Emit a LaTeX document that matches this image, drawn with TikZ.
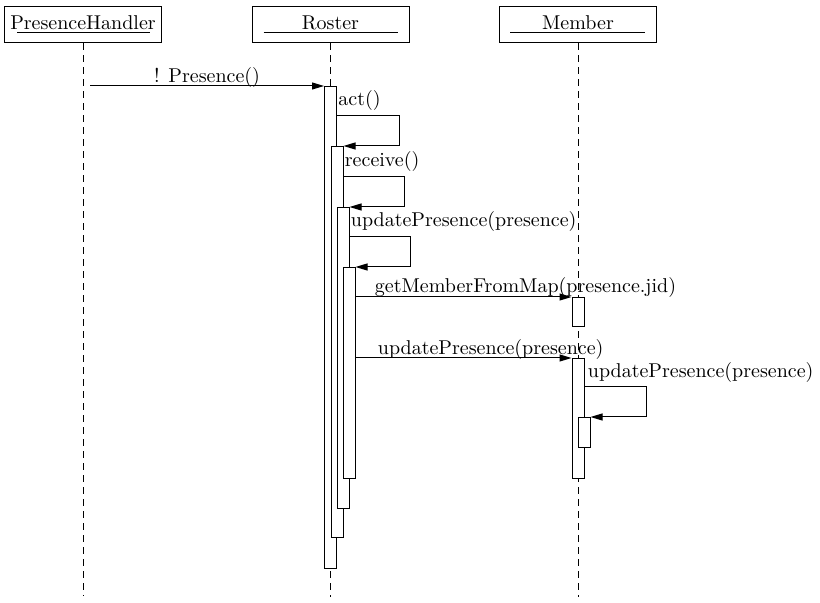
\documentclass[tikz,border=0pt]{standalone}
\usetikzlibrary{arrows.meta}
\begin{document}
\begin{tikzpicture}[x=0.5pt,y=-0.5pt,
  head/.style={draw, line width=0.5pt, minimum width=78.5pt, minimum height=18pt, inner sep=0pt, text height=7pt, text depth=2pt, font=\fontsize{10}{12}\selectfont},
  bar/.style={draw, fill=white, line width=0.5pt, minimum width=6pt, anchor=north, inner sep=0pt},
  life/.style={line width=0.5pt, dash pattern=on 3.5pt off 2.5pt},
  msg/.style={line width=0.5pt, -{Triangle[length=6pt,width=3.5pt]}},
  lbl/.style={inner sep=0pt, font=\fontsize{10}{12}\selectfont},
  uline/.style={line width=0.5pt}]
\useasboundingbox (0,0) rectangle (820,603);
% heads
\node[head] (ph) at (83,25) {PresenceHandler};
\node[head] (ro) at (330.5,25) {Roster};
\node[head] (me) at (578,25) {Member};
\draw[uline] ([shift={(-33pt,-4pt)}]ph.center) -- ++(66.5pt,0);
\draw[uline] ([shift={(-33.5pt,-4pt)}]ro.center) -- ++(67pt,0);
\draw[uline] ([shift={(-34pt,-4pt)}]me.center) -- ++(67.5pt,0);
% lifelines
\coordinate (phend) at (83,596);
\coordinate (roend) at (330.5,597);
\coordinate (meend) at (578,597);
\draw[life] (ph.south) -- (phend);
\draw[life] (ro.south) -- (roend);
\draw[life] (me.south) -- (meend);
% activation bars
\node[bar, minimum height=241pt] (r1) at (330.5,86) {};
\node[bar, minimum height=195.5pt] (r2) at (337,146) {};
\node[bar, minimum height=150.5pt] (r3) at (343,207) {};
\node[bar, minimum height=105.5pt] (r4) at (349,267) {};
\node[bar, minimum height=14.5pt] (m1) at (578,297) {};
\node[bar, minimum height=60pt] (m2) at (578,358) {};
\node[bar, minimum height=15pt] (m3) at (584,417) {};
\coordinate (s1) at (r4.east |- m1.north);
\coordinate (s2) at (r4.east |- m2.north);
% messages
\coordinate (src) at (90,86);
\draw[msg] (src) -- (r1.north west) node[lbl, midway, anchor=base, yshift=1.5pt] {! Presence()};
\node[lbl, anchor=base west] (la) at ([shift={(0.5pt,-10pt)}]r1.north east) {act()};
\draw[msg] ([yshift=-15pt]r1.north east) -- ++(31pt,0) |- (r2.north east);
\node[lbl, anchor=base west] (lr) at ([shift={(0.5pt,-10.5pt)}]r2.north east) {receive()};
\draw[msg] ([yshift=-15.5pt]r2.north east) -- ++(30.5pt,0) |- (r3.north east);
\node[lbl, anchor=base west] (lu) at ([shift={(0.5pt,-10pt)}]r3.north east) {updatePresence(presence)};
\draw[msg] ([yshift=-15pt]r3.north east) -- ++(30.5pt,0) |- (r4.north east);
\draw[msg] (s1) -- (m1.north west);
\node[lbl, anchor=base west] (lg) at ([shift={(9.5pt,2pt)}]s1) {getMemberFromMap(presence.jid)};
\draw[msg] (s2) -- (m2.north west);
\node[lbl, anchor=base west] (lp) at ([shift={(11pt,1.5pt)}]s2) {updatePresence(presence)};
\node[lbl, anchor=base west] (lm) at ([shift={(1.5pt,-10pt)}]m2.north east) {updatePresence(presence)};
\draw[msg] ([yshift=-14.5pt]m2.north east) -- ++(31pt,0) |- (m3.north east);
\end{tikzpicture}
\end{document}
